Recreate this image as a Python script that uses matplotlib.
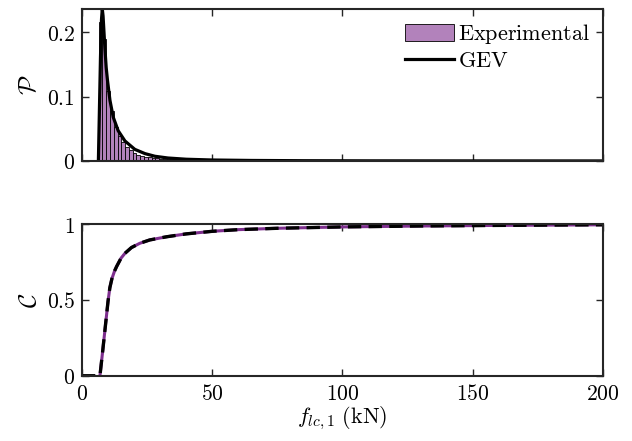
import matplotlib
matplotlib.use("Agg")
import matplotlib.pyplot as plt
from matplotlib.patches import Patch
from matplotlib.lines import Line2D

plt.rcParams["mathtext.fontset"] = "cm"
plt.rcParams["font.family"] = "serif"
plt.rcParams["font.serif"] = ["DejaVu Serif"]

# histogram of measured peak loads (kN), probability per bin
BIN_LEFT = [6.4, 7.85, 9.3, 10.75, 12.2, 13.65, 15.1, 16.55, 18.0, 19.45,
            20.9, 22.35, 23.8, 25.25, 26.7, 28.15, 29.6, 31.05, 32.5, 33.95,
            35.4, 36.85, 38.3, 39.75, 41.2, 42.65, 44.1, 45.55, 47.0, 48.45]
BIN_PROB = [0.215, 0.19, 0.109, 0.078, 0.052, 0.038, 0.029, 0.022, 0.017,
            0.013, 0.010, 0.0082, 0.0068, 0.0057, 0.0048, 0.0041, 0.0035,
            0.0030, 0.0026, 0.0023, 0.0020, 0.0018, 0.0016, 0.0014, 0.0013,
            0.0012, 0.0011, 0.0010, 0.0009, 0.0008]
BIN_W = 1.45

# fitted GEV density
PDF_X = [6.3, 6.7, 7.1, 7.5, 7.8, 8.1, 8.8, 9.3, 9.8, 10.75, 12.0, 13.9,
         16.5, 20.3, 24.2, 28.0, 33.0, 40.0, 50.0, 65.0, 85.0, 110.0, 150.0,
         200.0]
PDF_Y = [0.0, 0.08, 0.16, 0.22, 0.236, 0.225, 0.175, 0.145, 0.125, 0.094,
         0.068, 0.047, 0.031, 0.018, 0.0114, 0.0073, 0.0046, 0.0027, 0.0015,
         0.0008, 0.0004, 0.0002, 0.0001, 0.00005]

# cumulative curves: empirical and GEV
ECDF_X = [6.9, 8.0, 9.0, 10.0, 10.7, 11.5, 12.5, 13.3, 15.0, 16.5, 19.0,
          22.2, 26.0, 32.5, 40.0, 50.0, 60.0, 75.0, 100.0, 130.0, 160.0, 200.0]
ECDF_Y = [0.0, 0.17, 0.33, 0.49, 0.58, 0.64, 0.69, 0.72, 0.775, 0.807, 0.845,
          0.873, 0.895, 0.916, 0.935, 0.952, 0.963, 0.972, 0.981, 0.987,
          0.991, 0.995]
GCDF_X = [0.0] + ECDF_X
GCDF_Y = [0.0] + ECDF_Y

X_TICKS = [0, 50, 100, 150, 200]

PURPLE = "#7E2F8E"
BAR_FACE = "#B282BB"
AX_COL = "#262626"
FS = 15.5


def style(ax, yticks, ylim):
    ax.set_xlim(0, 200)
    ax.set_ylim(*ylim)
    ax.set_xticks(X_TICKS)
    ax.set_yticks(yticks)
    ax.set_yticklabels(["$%g$" % v for v in yticks], fontsize=FS)
    ax.tick_params(direction="in", length=5, width=1.0, color=AX_COL,
                   top=True, right=True, pad=5)
    for s in ax.spines.values():
        s.set_linewidth(1.5)
        s.set_color(AX_COL)


fig = plt.figure(figsize=(6.32, 4.41), dpi=100)
ax1 = fig.add_axes([0.1297, 0.635, 0.8243, 0.3447])
ax2 = fig.add_axes([0.1297, 0.148, 0.8243, 0.344])

ax1.bar(BIN_LEFT, BIN_PROB, width=BIN_W, align="edge", color=BAR_FACE,
        edgecolor="black", linewidth=0.6)
ax1.plot(PDF_X, PDF_Y, color="black", linewidth=2.3)
style(ax1, [0, 0.1, 0.2], (0, 0.236))
ax1.set_xticklabels([])
ax1.set_ylabel(r"$\mathcal{P}$", fontsize=18, labelpad=4)

hands = [Patch(facecolor=BAR_FACE, edgecolor="black", linewidth=0.6),
         Line2D([], [], color="black", linewidth=2.3)]
ax1.legend(hands, [r"$\mathrm{Experimental}$", r"$\mathrm{GEV}$"],
           loc="upper right", frameon=False, fontsize=16, handlelength=2.2,
           handleheight=0.8, labelspacing=0.15, handletextpad=0.15,
           borderaxespad=0.2)

ax2.plot(ECDF_X, ECDF_Y, color=PURPLE, linewidth=2.2)
ax2.plot(GCDF_X, GCDF_Y, color="black", linewidth=2.4, dashes=(4, 2.2))
style(ax2, [0, 0.5, 1], (0, 1))
ax2.set_xticklabels(["$%d$" % v for v in X_TICKS], fontsize=FS)
ax2.set_ylabel(r"$\mathcal{C}$", fontsize=18, labelpad=4)
ax2.set_xlabel(r"$f_{lc,1}\ \mathrm{(kN)}$", fontsize=16, labelpad=0)

fig.savefig("out.png", dpi=100, facecolor="white")
